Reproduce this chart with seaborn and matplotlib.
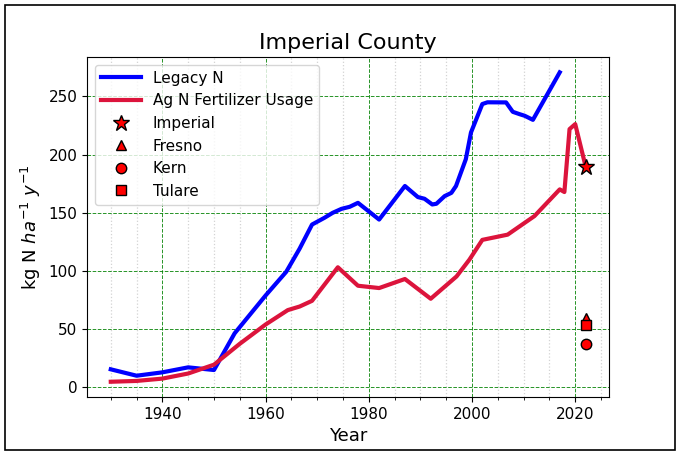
import matplotlib
matplotlib.use("Agg")
import matplotlib.pyplot as plt
from matplotlib.ticker import MultipleLocator
from matplotlib.patches import Rectangle
import seaborn as sns
import pandas as pd

legacy_years = [1930, 1935, 1940, 1945, 1950, 1954, 1960, 1964, 1966.6, 1969, 1971.4, 1973,
                1974.7, 1976.3, 1977.9, 1982, 1987, 1989.5, 1990.8, 1992.3, 1993.1, 1994.7,
                1996, 1996.9, 1998.8, 1999.8, 2002, 2003, 2006.6, 2007.9, 2009.2, 2010.2,
                2011.8, 2017]
legacy_vals = [15, 9.5, 12.4, 16.7, 14.4, 46, 78.6, 99, 119, 139.7, 145.5, 149.8,
               153.2, 155, 158.4, 144, 172.9, 163.4, 161.9, 157, 157.6, 164.2,
               167, 172.9, 196, 219, 243.5, 245, 244.9, 236.8, 234.8, 233.4,
               229.9, 270.8]

fert_years = [1930, 1935, 1940, 1945, 1950, 1955, 1960, 1964.3, 1966.6, 1969, 1974, 1977.9,
              1982, 1987, 1992, 1997, 1999.5, 2002, 2006.9, 2012.1, 2017, 2017.9, 2018.9,
              2020, 2022]
fert_vals = [4.3, 5, 7, 11.4, 19, 37, 53.6, 66, 69.1, 74, 102.9, 87,
             85, 92.8, 75.8, 95, 109.5, 126.5, 131, 147, 170, 167.7, 221.9,
             226.2, 190]

county_names = ["Imperial", "Fresno", "Kern", "Tulare"]
county_year = [2022, 2022, 2022, 2022]
county_vals = [189.5, 59, 37, 53.5]
county_markers = ["*", "^", "o", "s"]
county_sizes = [12, 7.5, 7.5, 7]

df_leg = pd.DataFrame({"Year": legacy_years, "val": legacy_vals})
df_fert = pd.DataFrame({"Year": fert_years, "val": fert_vals})

fig = plt.figure(figsize=(6.8, 4.55), dpi=100)
ax = fig.add_axes([0.128, 0.127, 0.768, 0.748])

sns.lineplot(data=df_leg, x="Year", y="val", ax=ax, color="blue", linewidth=3,
             label="Legacy N", estimator=None, sort=False)
sns.lineplot(data=df_fert, x="Year", y="val", ax=ax, color="crimson", linewidth=3,
             label="Ag N Fertilizer Usage", estimator=None, sort=False)
for name, xv, yv, m, s in zip(county_names, county_year, county_vals, county_markers, county_sizes):
    ax.plot([xv], [yv], linestyle="none", marker=m, markersize=s, color="red",
            markeredgecolor="black", markeredgewidth=1, label=name)

ax.xaxis.set_major_locator(MultipleLocator(20))
ax.xaxis.set_minor_locator(MultipleLocator(5))
ax.yaxis.set_major_locator(MultipleLocator(50))
ax.grid(which="major", color="green", linestyle="--", linewidth=0.7, alpha=0.85)
ax.grid(which="minor", axis="x", color="lightgray", linestyle=":", linewidth=0.9)
ax.tick_params(axis="both", labelsize=11)

ax.set_title("Imperial County", fontsize=16)
ax.set_xlabel("Year", fontsize=13)
ax.set_ylabel("kg N $ha^{-1}$ $y^{-1}$", fontsize=13)
ax.legend(loc="upper left", fontsize=11, handlelength=2.6)

fig.add_artist(Rectangle((0.008, 0.01), 0.984, 0.98, transform=fig.transFigure,
                         fill=False, edgecolor="black", linewidth=1.2))

fig.savefig("out.png", dpi=100)
